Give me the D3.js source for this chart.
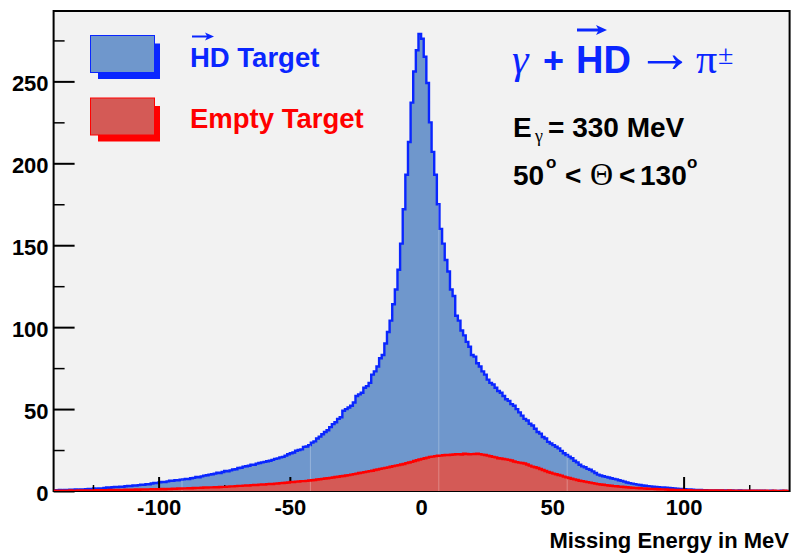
<!DOCTYPE html>
<html><head><meta charset="utf-8">
<script src="https://cdn.jsdelivr.net/npm/d3@7"></script>
<style>html,body{margin:0;padding:0;background:#fff;} svg{display:block}</style>
</head><body>
<svg id="chart" width="796" height="559"></svg>
<script>
// ---------------- data ----------------
const binStart = -140;   // lower edge of first bin, MeV
const binWidth = 1;      // MeV per bin
// HD target counts, bins -140 .. 139 MeV
const hdTarget = [
  0.5,0.4,0.6,0.5,0.7,0.6,0.8,0.7,0.9,0.8,
  1.0,0.9,1.1,1.2,1.1,1.5,1.3,1.6,1.5,1.9,
  2.2,2.0,2.3,2.5,2.4,2.7,2.6,2.9,3.1,3.0,
  3.4,3.3,3.6,3.9,3.8,4.2,4.1,4.6,4.9,4.8,
  5.3,5.5,5.4,5.9,6.3,6.2,6.6,6.5,6.9,7.1,
  7.4,7.3,7.8,8.0,8.6,8.4,8.9,9.4,9.6,10.0,
  10.2,10.6,11.1,11.0,11.6,12.2,12.0,12.6,13.1,13.3,
  14.0,14.2,14.9,15.1,15.4,16.1,16.0,16.7,17.1,17.5,
  17.8,18.2,18.5,19.0,19.6,19.9,20.5,20.8,21.6,22.4,
  23.0,23.5,24.6,25.0,25.4,26.9,27.2,28.0,29.5,30.3,
  32.0,33.2,34.6,36.0,37.1,39.0,40.8,42.0,44.0,45.0,
  49,50,51,52,54,58,59,60,63,64,
  66,71,73,76,81,83,90,97,104,114,
  123,135,151,172,193,213,237,256,269,279,
  276,265,249,225,207,193,175,160,151,141,
  134,123,119,107,104,98,95,91,88,83,
  82,78,76,73,71,68,66,65,63,61,
  60,58,56,55,53,52,50,48,46,44,
  43,41,40,38,36,35,33,32,30,29,
  28,27,26,24.5,23,22,21,20,18.5,17.5,
  16,15,14.5,13.5,13,12,11,10,9.5,9,
  8.6,8.2,7.8,7.4,7.1,6.6,6.2,5.7,5.2,4.8,
  4.5,4.2,3.9,3.7,3.4,3.2,3.0,2.8,2.6,2.5,
  2.3,2.2,2.1,2.0,1.8,1.7,1.5,1.4,1.3,1.2,
  1.1,1.0,0.9,0.8,0.7,0.6,0.6,0.5,0.5,0.4,
  0.4,0.4,0.3,0.4,0.3,0.3,0.3,0.2,0.3,0.2,
  0.2,0.3,0.2,0.2,0.1,0.2,0.2,0.1,0.2,0.1,
  0.2,0.1,0.1,0.2,0.1,0.1,0.1,0.2,0.1,0.1
];
// Empty target counts, bins -140 .. 139 MeV
const emptyTarget = [
  0.2,0.1,0.2,0.2,0.1,0.2,0.3,0.2,0.2,0.3,
  0.3,0.3,0.4,0.3,0.4,0.4,0.5,0.4,0.5,0.5,
  0.5,0.6,0.5,0.6,0.7,0.6,0.7,0.8,0.7,0.8,
  0.8,0.9,0.8,0.9,1.0,0.9,1.0,1.1,1.0,1.1,
  1.0,1.2,1.1,1.3,1.2,1.4,1.3,1.5,1.5,1.6,
  1.6,1.7,1.7,1.8,1.9,1.9,2.0,2.1,2.1,2.2,
  2.2,2.3,2.3,2.4,2.5,2.5,2.7,2.8,2.8,3.0,
  3.1,3.1,3.3,3.4,3.4,3.6,3.7,3.7,3.9,4.0,
  4.0,4.2,4.3,4.3,4.5,4.6,4.8,4.9,5.0,5.2,
  5.5,5.5,5.7,5.8,6.0,6.0,6.2,6.4,6.6,6.7,
  7.0,7.2,7.4,7.6,7.8,8.0,8.2,8.5,8.7,9.0,
  9.2,9.5,9.7,10.0,10.3,10.6,11.0,11.2,11.5,11.8,
  12.1,12.4,12.8,13.1,13.5,13.8,14.1,14.4,14.8,15.2,
  15.5,15.8,16.2,16.5,17.0,17.4,17.8,18.3,18.8,19.2,
  19.6,20.0,20.4,20.8,21.0,21.3,21.5,21.6,21.8,22.0,
  22.0,22.1,22.3,22.4,22.5,22.3,22.7,22.6,22.4,22.5,
  22.6,22.8,22.5,22.2,22.0,21.6,21.2,20.8,20.5,20.0,
  19.8,19.5,19.3,19.0,18.6,18.0,17.6,17.3,17.1,16.8,
  16.2,15.5,14.9,14.5,14.0,13.4,12.8,12.2,11.6,11.1,
  10.6,10.2,9.8,9.4,8.8,8.3,7.9,7.5,7.1,6.7,
  6.3,6.0,5.7,5.4,5.1,4.8,4.5,4.2,4.0,3.8,
  3.6,3.4,3.2,3.0,2.9,2.7,2.6,2.4,2.3,2.1,
  2.0,1.9,1.8,1.7,1.6,1.5,1.4,1.3,1.3,1.2,
  1.1,1.0,1.0,0.9,0.8,0.8,0.7,0.7,0.6,0.6,
  0.5,0.5,0.5,0.4,0.4,0.4,0.3,0.4,0.3,0.3,
  0.3,0.2,0.3,0.2,0.3,0.2,0.2,0.3,0.2,0.2,
  0.2,0.2,0.1,0.2,0.2,0.1,0.2,0.2,0.1,0.2,
  0.1,0.2,0.1,0.1,0.2,0.1,0.1,0.1,0.2,0.1
];
const xDomain = [-140, 140];
const xTicks = [-100, -50, 0, 50, 100];
const xMinorTicks = [-125, -75, -25, 25, 75, 125];
const yTicks = [0, 50, 100, 150, 200, 250];
const yMinorTicks = [25, 75, 125, 175, 225, 275];
const legendLabels = ["HD Target", "Empty Target"];
const xTitle = "Missing Energy in MeV";

// ---------------- drawing ----------------
const W = 796, H = 559;
const plot = {left: 53.6, right: 788.6, top: 11, bottom: 491};
const sans = "'Liberation Sans', Arial, Helvetica, sans-serif";
const serif = "'Liberation Serif', 'DejaVu Serif', serif";
const BLUE = "#0a26ff", RED = "#ff0000";
const BLUE_FILL = "#6f97cc", RED_FILL = "#d45a56";

const svg = d3.select("#chart");
svg.append("rect").attr("width", W).attr("height", H).attr("fill", "#fff");

const x = d3.scaleLinear().domain(xDomain).range([plot.left, plot.right]);
const y = d3.scaleLinear().domain([0, 1.05 * d3.max(hdTarget)]).range([plot.bottom, plot.top]);

svg.append("rect").attr("x", plot.left).attr("y", plot.top)
  .attr("width", plot.right - plot.left + 1).attr("height", plot.bottom - plot.top)
  .attr("fill", "#f2f2f2");

const defs = svg.append("defs");
defs.append("clipPath").attr("id", "plotclip").append("rect")
  .attr("x", plot.left).attr("y", plot.top)
  .attr("width", plot.right - plot.left + 1).attr("height", plot.bottom - plot.top);

function stepPoints(vals) {
  const pts = [];
  vals.forEach((v, i) => {
    const lo = binStart + i * binWidth;
    pts.push([lo, v]); pts.push([lo + binWidth, v]);
  });
  return pts;
}
const line = d3.line().x(d => x(d[0])).y(d => y(d[1]));
const area = d3.area().x(d => x(d[0])).y0(y(0)).y1(d => y(d[1]));
const bluePts = stepPoints(hdTarget), redPts = stepPoints(emptyTarget);

defs.append("clipPath").attr("id", "blueclip").append("path").attr("d", area(bluePts));

const g = svg.append("g").attr("clip-path", "url(#plotclip)");
g.append("path").attr("d", area(bluePts)).attr("fill", BLUE_FILL);
g.append("path").attr("d", line(bluePts)).attr("fill", "none")
  .attr("stroke", BLUE).attr("stroke-width", 2.4).attr("stroke-linejoin", "miter");

// axes ticks (drawn between the two histograms, as in the original)
const axG = svg.append("g");
function styleAxis(sel, w) {
  sel.select(".domain").remove();
  sel.selectAll(".tick line").attr("stroke", "#000").attr("stroke-width", w);
  sel.selectAll(".tick text").attr("font-family", sans).attr("font-weight", "bold")
    .attr("font-size", 22).attr("fill", "#000");
}
axG.append("g").attr("transform", `translate(${plot.left},0)`)
  .call(d3.axisLeft(y).tickValues(yTicks).tickSize(-21).tickPadding(5).tickFormat(d3.format("d")))
  .call(s => styleAxis(s, 2))
  .call(s => s.selectAll(".tick text").attr("dy", "0.43em"));
axG.append("g").attr("transform", `translate(${plot.left},0)`)
  .call(d3.axisLeft(y).tickValues(yMinorTicks).tickSize(-11).tickFormat(""))
  .call(s => styleAxis(s, 1.5));
axG.append("g").attr("transform", `translate(0,${plot.bottom})`)
  .call(d3.axisBottom(x).tickValues(xTicks).tickSize(-14).tickPadding(8).tickFormat(d3.format("d")))
  .call(s => styleAxis(s, 2));
axG.append("g").attr("transform", `translate(0,${plot.bottom})`)
  .call(d3.axisBottom(x).tickValues(xMinorTicks).tickSize(-6).tickFormat(""))
  .call(s => styleAxis(s, 1.5));
svg.selectAll(".tick text").filter(function(){return this.textContent.startsWith("−");})
  .text(function(){return this.textContent.replace("−", "-");});

// frame
svg.append("rect").attr("x", plot.left).attr("y", plot.top)
  .attr("width", plot.right - plot.left + 1).attr("height", plot.bottom - plot.top)
  .attr("fill", "none").attr("stroke", "#000").attr("stroke-width", 2);

const g2 = svg.append("g").attr("clip-path", "url(#plotclip)");
g2.append("path").attr("d", area(redPts)).attr("fill", RED_FILL);
// faint rendering seams seen in the original fill
const seams = g2.append("g").attr("clip-path", "url(#blueclip)");
[1, 2, 3, 4, 5].forEach(k => {
  const sx = plot.left + k * 128.4;
  seams.append("line").attr("x1", sx).attr("x2", sx).attr("y1", plot.top).attr("y2", plot.bottom)
    .attr("stroke", "#fff").attr("stroke-opacity", 0.28).attr("stroke-width", 1);
});
g2.append("path").attr("d", line(redPts)).attr("fill", "none")
  .attr("stroke", RED).attr("stroke-width", 2.4);

// x axis title
svg.append("text").attr("x", 789).attr("y", 548).attr("text-anchor", "end")
  .attr("font-family", sans).attr("font-weight", "bold").attr("font-size", 22)
  .attr("fill", "#000").text(xTitle);

// legend
function arrow(sel, x1, x2, yy, col, sw, hl, hw) {
  sel.append("line").attr("x1", x1).attr("x2", x2 - hl * 0.6).attr("y1", yy).attr("y2", yy)
    .attr("stroke", col).attr("stroke-width", sw);
  sel.append("path").attr("d", `M${x2},${yy} L${x2 - hl},${yy - hw} L${x2 - hl * 0.75},${yy} L${x2 - hl},${yy + hw} Z`)
    .attr("fill", col);
}
const leg = svg.append("g");
const legRows = [
  {label: legendLabels[0], fill: BLUE_FILL, line: BLUE, y: 35, base: 67},
  {label: legendLabels[1], fill: RED_FILL, line: RED, y: 97.5, base: 127.5}
];
legRows.forEach(r => {
  leg.append("rect").attr("x", 98).attr("y", r.y + 8.5).attr("width", 62).attr("height", 35.5).attr("fill", r.line);
  leg.append("rect").attr("x", 90.5).attr("y", r.y + 0.5).attr("width", 64).attr("height", 37)
    .attr("fill", r.fill).attr("stroke", r.line).attr("stroke-width", 1);
  leg.append("text").attr("x", 190).attr("y", r.base).attr("font-family", sans)
    .attr("font-weight", "bold").attr("font-size", 27.5).attr("fill", r.line).text(r.label);
});
arrow(leg, 192, 214, 36.5, BLUE, 2, 9, 4);

// annotation: reaction
const tg = svg.append("g").attr("fill", BLUE);
tg.append("text").attr("x", 512).attr("y", 73).attr("font-family", serif).attr("font-style", "italic")
  .attr("font-size", 42).text("γ");
tg.append("text").attr("x", 543).attr("y", 73).attr("font-family", sans).attr("font-weight", "bold")
  .attr("font-size", 36).text("+");
tg.append("text").attr("x", 576).attr("y", 73).attr("font-family", sans).attr("font-weight", "bold")
  .attr("font-size", 38).text("HD");
arrow(tg, 577, 607, 30, BLUE, 3, 11, 5);
tg.append("text").attr("x", 636).attr("y", 72).attr("font-family", "'Liberation Serif', serif")
  .attr("font-size", 58).text("→");
tg.append("text").attr("x", 696).attr("y", 73).attr("font-family", serif)
  .attr("font-size", 42).text("π");
tg.append("text").attr("x", 718).attr("y", 64).attr("font-family", serif)
  .attr("font-size", 28).text("±");

// annotation: kinematics
const kg = svg.append("g").attr("fill", "#000").attr("font-family", sans).attr("font-weight", "bold");
const t1 = kg.append("text").attr("y", 137).attr("font-size", 28);
t1.append("tspan").attr("x", 513).text("E");
t1.append("tspan").attr("x", 535).attr("y", 142).attr("font-family", serif).attr("font-weight", "normal")
  .attr("font-size", 18).text("γ");
t1.append("tspan").attr("x", 548).attr("y", 137).text("= 330 MeV");
const t2 = kg.append("text").attr("y", 185).attr("font-size", 28);
t2.append("tspan").attr("x", 513).text("50");
t2.append("tspan").attr("x", 546).attr("y", 168).attr("font-size", 17).text("o");
t2.append("tspan").attr("x", 565).attr("y", 185).text("<");
t2.append("tspan").attr("x", 590).attr("y", 185).attr("font-family", serif).attr("font-weight", "normal")
  .attr("font-size", 32).text("Θ");
t2.append("tspan").attr("x", 619).attr("y", 185).text("<");
t2.append("tspan").attr("x", 640).attr("y", 185).text("130");
t2.append("tspan").attr("x", 687).attr("y", 168).attr("font-size", 17).text("o");
</script>
</body></html>
